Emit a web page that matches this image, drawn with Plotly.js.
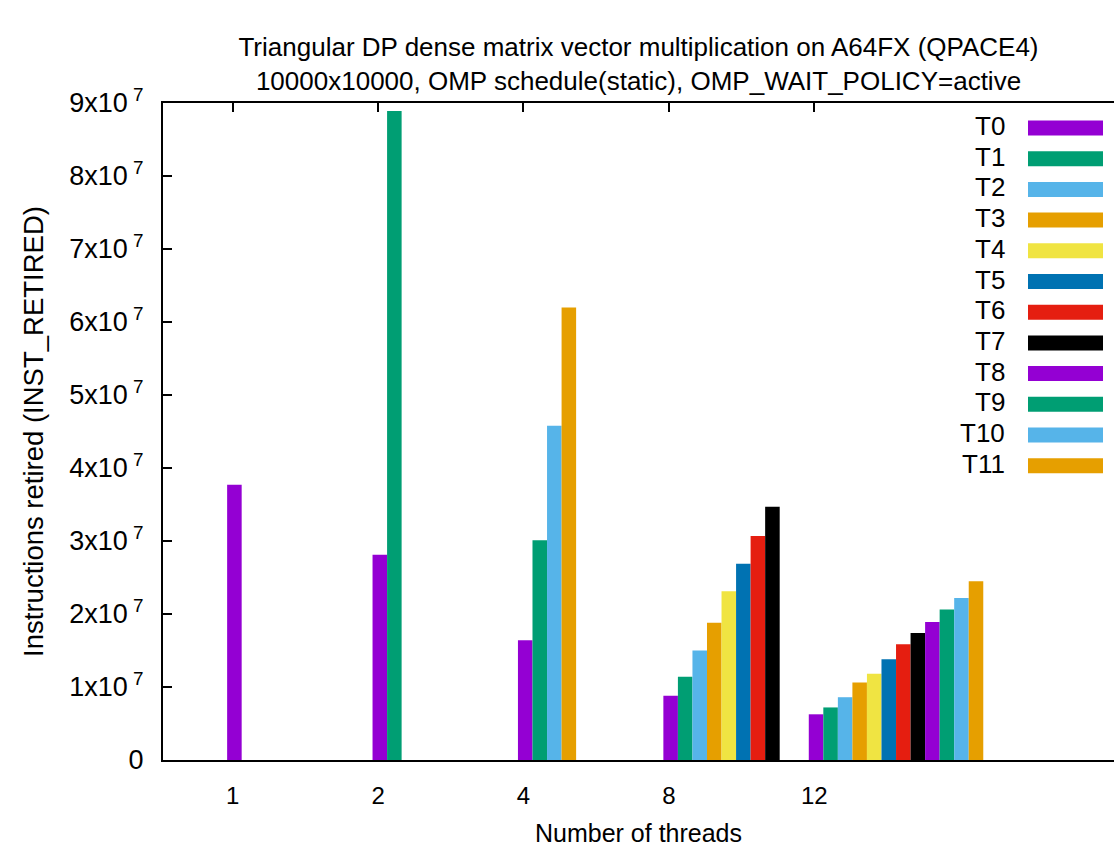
<!DOCTYPE html>
<html>
<head>
<meta charset="utf-8">
<script src="https://cdn.plot.ly/plotly-3.0.1.min.js"></script>
<style>html,body{margin:0;padding:0;background:#fff;}#chart{width:1114px;height:847px;}</style>
</head>
<body>
<div id="chart"></div>
<script>
// ---- data ----
const threadCounts = ["1", "2", "4", "8", "12"];
const seriesNames = ["T0","T1","T2","T3","T4","T5","T6","T7","T8","T9","T10","T11"];
const T0  = [3.77e7, 2.81e7, 1.64e7, 0.88e7, 0.626e7];
const T1  = [null,   8.89e7, 3.01e7, 1.14e7, 0.72e7];
const T2  = [null,   null,   4.58e7, 1.50e7, 0.86e7];
const T3  = [null,   null,   6.20e7, 1.88e7, 1.06e7];
const T4  = [null,   null,   null,   2.31e7, 1.18e7];
const T5  = [null,   null,   null,   2.69e7, 1.38e7];
const T6  = [null,   null,   null,   3.07e7, 1.585e7];
const T7  = [null,   null,   null,   3.47e7, 1.74e7];
const T8  = [null,   null,   null,   null,   1.89e7];
const T9  = [null,   null,   null,   null,   2.06e7];
const T10 = [null,   null,   null,   null,   2.22e7];
const T11 = [null,   null,   null,   null,   2.45e7];
const seriesValues = [T0,T1,T2,T3,T4,T5,T6,T7,T8,T9,T10,T11];
const colors = ["#9400d3","#009e73","#56b4e9","#e69f00","#f0e442","#0072b2","#e51e10","#000000",
                "#9400d3","#009e73","#56b4e9","#e69f00"];
const yTickVals = [0,1e7,2e7,3e7,4e7,5e7,6e7,7e7,8e7,9e7];
const yTickText = ["0","1x10<sup> 7</sup>","2x10<sup> 7</sup>","3x10<sup> 7</sup>","4x10<sup> 7</sup>",
                   "5x10<sup> 7</sup>","6x10<sup> 7</sup>","7x10<sup> 7</sup>","8x10<sup> 7</sup>","9x10<sup> 7</sup>"];

// ---- layout constants ----
const FONT = "Liberation Sans, Arial, Helvetica, sans-serif";
const FS = 26;
const W = 1114, H = 847;
const ML = 163, MR = 0, MT = 103, MB = 87;
const pw = W - ML - MR, ph = H - MT - MB;
const barW = 0.1, barShift = 0.012;
const xRange = [-0.479, 6.061];
const groupPos = threadCounts.map((_, i) => i);

const traces = seriesNames.map((name, s) => ({
  type: "bar",
  name: name,
  x: groupPos.map(g => g + barShift + s * barW),
  y: seriesValues[s],
  width: barW,
  marker: {color: colors[s], line: {width: 0}},
  showlegend: false,
  hoverinfo: "x+y+name"
}));
// empty trace so that the mirrored top axis (ticks only) is drawn
traces.push({type: "scatter", mode: "markers", x: [], y: [], xaxis: "x2", yaxis: "y",
  showlegend: false, hoverinfo: "skip"});

// manual gnuplot-style key (text right-aligned, swatch on the right)
const shapes = [], annotations = [];
const px2x = p => (p - ML) / pw;
const px2y = p => (H - MB - p) / ph;
seriesNames.forEach((name, i) => {
  const cy = 128 + 30.7 * i;
  shapes.push({type: "rect", xref: "paper", yref: "paper",
    x0: px2x(1028), x1: px2x(1103), y0: px2y(cy + 7.5), y1: px2y(cy - 7.5),
    fillcolor: colors[i], line: {width: 0}});
  annotations.push({xref: "paper", yref: "paper", x: px2x(1007), y: px2y(cy - 2),
    xanchor: "right", yanchor: "middle", showarrow: false, text: name,
    font: {family: FONT, size: FS, color: "#000"}});
});

const layout = {
  width: W, height: H,
  margin: {l: ML, r: MR, t: MT, b: MB, pad: 0},
  paper_bgcolor: "#fff", plot_bgcolor: "#fff",
  font: {family: FONT, size: FS, color: "#000"},
  barmode: "overlay",
  title: {
    text: "Triangular DP dense matrix vector multiplication on A64FX (QPACE4)<br>10000x10000, OMP schedule(static), OMP_WAIT_POLICY=active",
    font: {family: FONT, size: 26, color: "#000"},
    xref: "paper", x: 0.5, xanchor: "center",
    yref: "container", y: 1 - 56 / H, yanchor: "top"
  },
  xaxis: {
    range: xRange, tickvals: groupPos, ticktext: threadCounts,
    ticks: "", showline: true, linecolor: "#000", linewidth: 2, mirror: true,
    showgrid: false, zeroline: false, ticklabelstandoff: 13,
    tickfont: {family: FONT, size: 24, color: "#000"},
    title: {text: "Number of threads", font: {family: FONT, size: 25, color: "#000"}, standoff: 19},
    fixedrange: true
  },
  xaxis2: {
    overlaying: "x", side: "top", anchor: "y", range: xRange,
    tickvals: groupPos, showticklabels: false, ticks: "inside", ticklen: 9, tickwidth: 2, tickcolor: "#000",
    showline: false, showgrid: false, zeroline: false
  },
  yaxis: {
    range: [0, 9e7], tickvals: yTickVals, ticktext: yTickText,
    ticks: "inside", ticklen: 9, tickwidth: 2, tickcolor: "#000",
    showline: true, linecolor: "#000", linewidth: 2,
    showgrid: false, zeroline: false, ticklabelstandoff: 12,
    tickfont: {family: FONT, size: 27, color: "#000"},
    title: {text: "Instructions retired (INST_RETIRED)", font: {family: FONT, size: 27.5, color: "#000"}, standoff: 18}
  },
  shapes: shapes,
  annotations: annotations
};

Plotly.newPlot("chart", traces, layout, {displayModeBar: false, staticPlot: true});
</script>
</body>
</html>
